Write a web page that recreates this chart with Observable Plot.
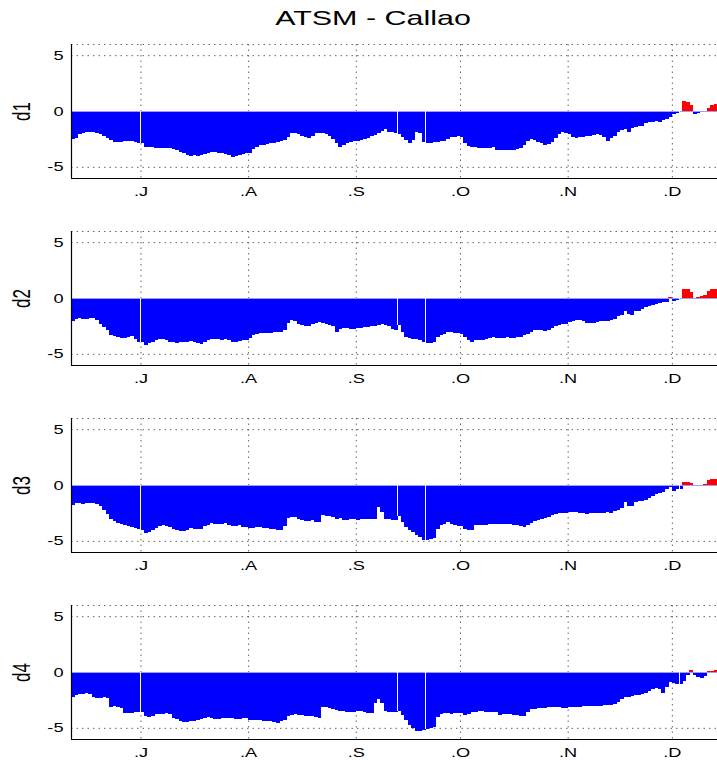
<!DOCTYPE html>
<html><head><meta charset="utf-8">
<script src="https://cdn.jsdelivr.net/npm/d3@7"></script>
<script src="https://cdn.jsdelivr.net/npm/@observablehq/plot@0.6"></script>
<style>
body{margin:0;background:#fff;overflow:hidden;font-family:"Liberation Sans",Arial,Helvetica,sans-serif}
#title{position:relative;height:31px;width:717px}
#title span{position:absolute;left:373px;top:6px;transform:translateX(-50%) scaleX(1.45);white-space:nowrap;font-size:21px;line-height:24px;color:#000}
svg{display:block}
</style></head><body>
<div id="title"><span>ATSM - Callao</span></div>
<div id="charts"></div>
<script>
const startDate = "2015-06-11";
const endDate = "2015-12-14";
const monthTicks = ["2015-07-01","2015-08-01","2015-09-01","2015-10-01","2015-11-01","2015-12-01"];
const monthLabels = [".J",".A",".S",".O",".N",".D"];
const yTicks = [-5, 0, 5];
const yDomain = [-6, 6];
const gapDates = ["2015-07-01","2015-09-13","2015-09-21","2015-12-03"];
const panelNames = ["d1","d2","d3","d4"];

const d1 = [
-2.55,-2.4,-2.1,-1.95,-1.9,-1.9,-1.85,-2.0,-2.1,-2.25,
-2.45,-2.6,-2.75,-2.8,-2.75,-2.7,-2.65,-2.7,-2.8,-2.85,
-2.9,-3.2,-3.2,-3.25,-3.3,-3.3,-3.3,-3.35,-3.35,-3.4,
-3.5,-3.65,-3.8,-3.9,-4.05,-3.95,-4.05,-3.95,-3.85,-3.75,
-3.7,-3.65,-3.75,-3.8,-3.85,-3.9,-4.1,-4.05,-3.95,-3.85,
-3.8,-3.75,-3.4,-3.2,-3.05,-3.0,-2.95,-2.9,-2.85,-2.8,
-2.7,-2.6,-2.3,-1.95,-2.0,-2.1,-2.2,-2.35,-2.4,-2.2,
-2.0,-1.95,-1.95,-2.05,-2.2,-2.5,-2.85,-3.2,-3.0,-2.85,
-2.75,-2.7,-2.65,-2.6,-2.55,-2.4,-2.25,-2.15,-2.0,-1.75,
-1.65,-1.9,-1.9,-1.95,-2.1,-2.3,-2.6,-2.9,-2.6,-1.9,
-2.0,-2.8,-2.85,-2.85,-2.8,-2.75,-2.7,-2.65,-2.5,-2.35,
-2.3,-2.25,-2.3,-2.85,-3.1,-3.25,-3.2,-3.3,-3.35,-3.35,
-3.3,-3.25,-3.45,-3.5,-3.5,-3.5,-3.45,-3.45,-3.4,-3.3,
-3.05,-2.7,-2.55,-2.6,-2.75,-2.9,-3.0,-2.95,-2.75,-2.4,
-2.05,-1.9,-1.95,-2.1,-2.35,-2.4,-2.35,-2.3,-2.25,-2.25,
-2.15,-2.1,-2.15,-2.35,-2.65,-2.45,-2.2,-1.85,-1.7,-1.65,
-1.9,-1.55,-1.4,-1.35,-1.35,-1.1,-1.0,-1.0,-0.9,-0.95,
-0.85,-0.75,-0.5,-0.25,-0.2,-0.12,0.9,0.85,0.5,-0.3,
-0.2,-0.1,-0.08,0.3,0.55,0.6
];
const d2 = [
-2.1,-1.85,-1.8,-1.85,-1.85,-1.8,-1.75,-2.0,-2.3,-2.6,
-2.9,-3.3,-3.4,-3.5,-3.6,-3.55,-3.45,-3.4,-3.7,-3.9,
-3.95,-4.2,-4.05,-3.9,-3.8,-3.65,-3.7,-3.8,-3.9,-3.95,
-4.0,-3.95,-3.95,-3.9,-3.85,-3.9,-4.05,-4.1,-3.9,-3.8,
-3.7,-3.65,-3.7,-3.75,-3.7,-3.8,-3.95,-3.9,-3.85,-3.8,
-3.75,-3.6,-3.35,-3.2,-3.1,-3.1,-3.15,-3.1,-3.05,-3.05,
-3.0,-2.9,-2.2,-2.0,-2.1,-2.3,-2.45,-2.55,-2.55,-2.35,
-2.25,-2.15,-2.2,-2.3,-2.4,-2.5,-3.05,-2.75,-2.7,-2.7,
-2.75,-2.75,-2.7,-2.65,-2.6,-2.6,-2.55,-2.5,-2.45,-2.3,
-2.45,-2.5,-2.75,-2.85,-2.4,-3.0,-3.5,-3.6,-3.65,-3.7,
-3.75,-3.95,-4.0,-4.0,-3.95,-3.5,-3.35,-3.2,-3.0,-3.05,
-3.1,-3.15,-3.2,-3.5,-3.75,-3.95,-3.75,-3.8,-3.8,-3.7,
-3.6,-3.5,-3.55,-3.6,-3.55,-3.5,-3.55,-3.6,-3.5,-3.45,
-3.3,-3.2,-3.0,-2.9,-2.9,-2.9,-2.95,-2.85,-2.7,-2.5,
-2.4,-2.3,-2.3,-2.15,-2.05,-2.0,-1.95,-2.1,-2.25,-2.25,
-2.2,-2.15,-2.1,-2.1,-2.05,-1.95,-1.85,-1.65,-1.5,-1.2,
-1.4,-1.55,-1.15,-1.2,-1.0,-0.8,-0.75,-0.65,-0.55,-0.45,
-0.4,-0.4,0.12,-0.25,-0.2,-0.1,0.85,0.8,0.5,-0.05,
0.12,0.2,0.25,0.6,0.8,0.85
];
const d3v = [
-1.8,-1.65,-1.65,-1.7,-1.65,-1.6,-1.6,-1.7,-1.85,-2.2,
-2.6,-3.0,-3.25,-3.4,-3.5,-3.6,-3.7,-3.75,-3.85,-3.95,
-4.05,-4.3,-4.2,-4.0,-3.85,-3.65,-3.6,-3.7,-3.8,-3.9,
-4.05,-4.1,-4.1,-4.0,-3.85,-3.9,-3.95,-3.9,-3.7,-3.55,
-3.4,-3.45,-3.5,-3.45,-3.4,-3.55,-3.7,-3.65,-3.6,-3.75,
-3.8,-3.85,-3.85,-3.75,-3.8,-3.85,-3.85,-3.9,-3.9,-4.0,
-4.05,-3.7,-2.95,-2.9,-2.9,-3.0,-3.1,-3.25,-3.2,-3.1,
-3.3,-3.35,-2.65,-2.75,-2.8,-2.9,-3.05,-2.95,-3.1,-3.1,
-3.0,-3.05,-3.1,-3.05,-3.0,-3.0,-3.05,-3.05,-1.95,-2.4,
-3.0,-3.05,-3.1,-3.15,-2.8,-3.3,-3.75,-4.0,-4.25,-4.5,
-4.7,-4.95,-4.9,-4.85,-4.75,-3.95,-3.6,-3.45,-3.35,-3.45,
-3.55,-3.65,-3.7,-3.9,-4.05,-4.0,-3.55,-3.55,-3.6,-3.55,
-3.45,-3.5,-3.5,-3.45,-3.45,-3.5,-3.5,-3.55,-3.55,-3.65,
-3.75,-3.6,-3.4,-3.25,-3.1,-3.0,-2.95,-2.85,-2.7,-2.6,
-2.5,-2.55,-2.5,-2.45,-2.45,-2.45,-2.5,-2.55,-2.6,-2.55,
-2.5,-2.5,-2.5,-2.5,-2.45,-2.5,-2.35,-2.2,-2.05,-1.55,
-1.85,-1.9,-1.55,-1.45,-1.4,-1.3,-1.15,-0.95,-0.85,-0.75,
-0.6,-0.35,-0.15,-0.55,-0.4,-0.35,0.3,0.3,0.15,-0.1,
-0.05,-0.05,0.05,0.45,0.55,0.55
];
const d4 = [
-2.2,-2.05,-2.0,-1.95,-1.9,-2.0,-2.2,-2.3,-2.3,-2.25,
-2.3,-3.1,-3.05,-3.1,-3.25,-3.7,-3.7,-3.65,-3.6,-3.55,
-3.6,-3.95,-4.0,-3.9,-3.8,-3.75,-3.75,-3.7,-3.75,-4.1,
-4.25,-4.35,-4.45,-4.45,-4.4,-4.35,-4.3,-4.25,-4.15,-4.0,
-4.1,-4.25,-4.2,-4.15,-4.15,-4.15,-4.15,-4.2,-4.2,-4.1,
-4.1,-4.3,-4.3,-4.3,-4.3,-4.35,-4.35,-4.4,-4.45,-4.6,
-4.4,-4.3,-3.9,-3.85,-3.8,-3.85,-3.85,-3.9,-3.95,-3.95,
-4.05,-4.1,-3.1,-3.15,-3.2,-3.3,-3.4,-3.5,-3.5,-3.55,
-3.55,-3.55,-3.5,-3.5,-3.6,-3.65,-3.7,-2.8,-2.4,-2.75,
-3.5,-3.6,-3.55,-3.55,-3.45,-3.85,-4.3,-4.75,-5.0,-5.3,
-5.3,-5.2,-5.1,-5.0,-4.95,-4.0,-3.75,-3.65,-3.7,-3.75,
-3.7,-3.65,-3.7,-3.85,-3.75,-3.6,-3.55,-3.5,-3.5,-3.55,
-3.55,-3.55,-3.6,-3.85,-3.8,-3.75,-3.8,-3.85,-3.85,-3.9,
-3.9,-3.6,-3.35,-3.3,-3.25,-3.25,-3.2,-3.15,-3.15,-3.1,
-3.1,-3.2,-3.2,-3.15,-3.15,-3.1,-3.1,-3.05,-3.05,-3.0,
-3.0,-3.0,-3.0,-2.95,-2.95,-2.95,-2.85,-2.65,-2.45,-2.25,
-2.2,-2.15,-2.1,-2.05,-2.0,-1.9,-1.7,-1.5,-1.45,-1.5,
-1.9,-1.3,-0.9,-0.95,-1.05,-1.1,-0.85,-0.3,0.15,-0.25,
-0.45,-0.5,-0.35,0.05,0.12,0.2
];
const series = [d1, d2, d3v, d4];

const parse = s => new Date(s + "T00:00:00Z");
const t0 = parse(startDate), t1 = parse(endDate);
const ticks = monthTicks.map(parse);
const labelMap = new Map(ticks.map((t, i) => [+t, monthLabels[i]]));
const gapSet = new Set(gapDates.map(s => +parse(s)));
const font = '"Liberation Sans", Arial, Helvetica, sans-serif';

function panel(name, values, last) {
  const data = values.map((v, i) => ({date: d3.utcDay.offset(t0, i), value: v}));
  const gaps = data.filter(d => gapSet.has(+d.date));
  const grid = {stroke: "#666", strokeDasharray: "1.5,4", strokeWidth: 1};
  const bar = {x: "date", y: "value", interval: d3.utcDay, inset: 0, insetLeft: 0, insetRight: -0.4, shapeRendering: "crispEdges"};
  return Plot.plot({
    width: 717,
    height: last ? 168 : 187,
    marginLeft: 71, marginRight: 0, marginTop: 13, marginBottom: last ? 21 : 40,
    style: {fontFamily: font, fontSize: "13px", color: "black", background: "white", overflow: "visible"},
    x: {type: "utc", domain: [t0, t1]},
    y: {domain: yDomain},
    marks: [
      Plot.ruleY(yTicks.concat([yDomain[1]]), grid),
      Plot.ruleX(ticks, grid),
      Plot.rectY(data.filter(d => d.value < 0), {...bar, fill: "#0000ff"}),
      Plot.rectY(data.filter(d => d.value >= 0), {...bar, fill: "#ff0000"}),
      Plot.ruleY([0], {stroke: "#9c9cff", strokeWidth: 1}),
      Plot.ruleX(gaps, {x: "date", y1: 0, y2: "value", stroke: "white", strokeWidth: 1, shapeRendering: "crispEdges"}),
      Plot.ruleY([yDomain[0]], {stroke: "black", strokeWidth: 1.2}),
      Plot.ruleX([t0], {stroke: "black", strokeWidth: 1.2}),
      Plot.axisY({ticks: yTicks, tickSize: 0, tickPadding: 8, tickFormat: d => String(d), fontSize: 13, label: null}),
      Plot.axisX({ticks: ticks, tickSize: 0, tickPadding: 8, tickFormat: d => labelMap.get(+d), fontSize: 13, label: null}),
      Plot.text([name], {frameAnchor: "left", dx: -49, rotate: -90, textAnchor: "middle", fontSize: 17, fill: "black"})
    ]
  });
}

// widen glyphs horizontally, as in the reference rendering
function stretchText(svg, k) {
  svg.querySelectorAll("text").forEach(t => {
    const r = t.getBoundingClientRect();
    const anchor = getComputedStyle(t).textAnchor;
    const rotated = /rotate/.test(t.getAttribute("transform") || "");
    const sx = (rotated || anchor === "middle") ? (r.left + r.right) / 2 : anchor === "end" ? r.right : r.left;
    const parent = t.parentNode;
    const ctm = parent.getScreenCTM();
    const px = (sx - ctm.e) / ctm.a;
    const g = document.createElementNS("http://www.w3.org/2000/svg", "g");
    g.setAttribute("transform", `translate(${px},0) scale(${k},1) translate(${-px},0)`);
    parent.insertBefore(g, t);
    g.appendChild(t);
  });
}

const host = document.getElementById("charts");
series.forEach((vals, i) => {
  const svg = panel(panelNames[i], vals, i === series.length - 1);
  host.appendChild(svg);
  stretchText(svg, 1.4);
});
</script>
</body></html>
